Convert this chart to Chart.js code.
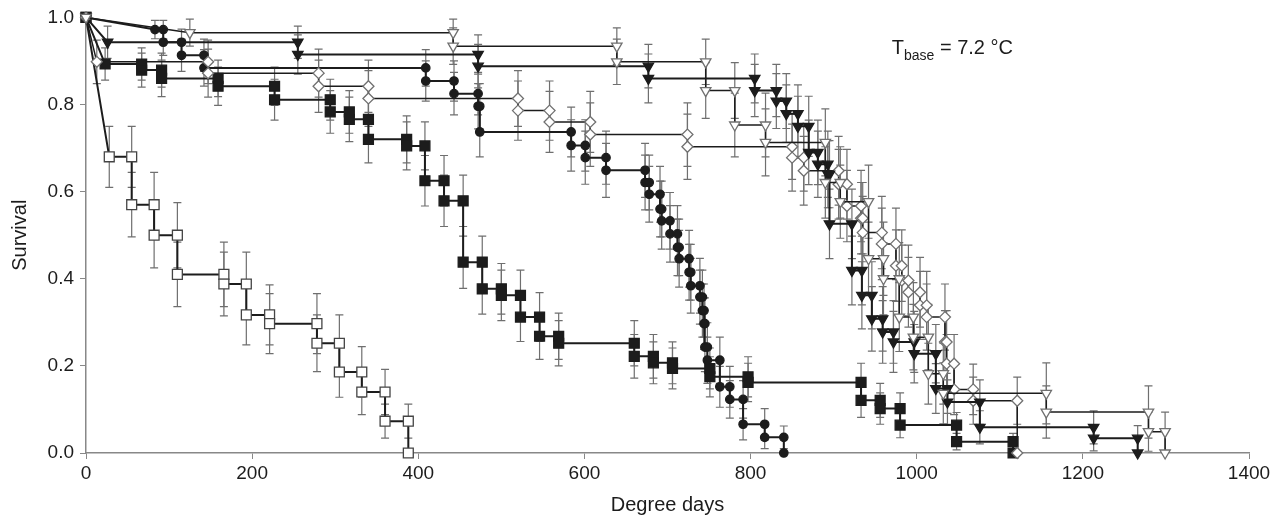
<!DOCTYPE html>
<html>
<head>
<meta charset="utf-8">
<script src="https://cdn.jsdelivr.net/npm/chart.js@4/dist/chart.umd.min.js"></script>
<style>
  body { margin: 0; background: #fff; }
  #wrap { width: 1284px; height: 517px; }
</style>
</head>
<body>
<div id="wrap"><canvas id="survival"></canvas></div>
<script>
// event times (degree days), survival after each event, and CI half-width
var openSqTimes = [28, 55, 82, 110, 166, 193, 221, 278, 305, 332, 360, 388];
var openSqSurv  = [0.68, 0.57, 0.50, 0.41, 0.388, 0.317, 0.297, 0.252, 0.186, 0.140, 0.073, 0];
var openSqErr   = [0.07, 0.074, 0.075, 0.074, 0.073, 0.069, 0.069, 0.065, 0.058, 0.052, 0.039, 0];

var fillSqTimes = [23, 67, 91, 159, 227, 294, 317, 340, 386, 408, 431, 454, 477, 500, 523, 546, 569, 660, 683, 706, 751, 797, 933, 956, 980, 1048, 1116];
var fillSqSurv  = [0.893, 0.879, 0.86, 0.842, 0.811, 0.783, 0.766, 0.72, 0.705, 0.625, 0.579, 0.438, 0.377, 0.362, 0.312, 0.268, 0.252, 0.222, 0.207, 0.194, 0.175, 0.162, 0.121, 0.102, 0.064, 0.026, 0];
var fillSqErr   = [0.037, 0.039, 0.042, 0.044, 0.047, 0.049, 0.051, 0.054, 0.055, 0.058, 0.059, 0.06, 0.058, 0.058, 0.056, 0.053, 0.052, 0.05, 0.048, 0.047, 0.046, 0.044, 0.039, 0.036, 0.029, 0.019, 0];

var circTimes = [83, 93, 115, 142, 409, 443, 472, 474, 584, 601, 626, 673, 678, 691, 693, 703, 712, 714, 726, 728, 739, 742, 744, 745, 748, 763, 775, 791, 817, 840];
var circSurv  = [0.972, 0.943, 0.913, 0.884, 0.854, 0.825, 0.796, 0.737, 0.706, 0.678, 0.649, 0.621, 0.594, 0.56, 0.533, 0.503, 0.472, 0.446, 0.415, 0.384, 0.358, 0.327, 0.297, 0.243, 0.213, 0.152, 0.123, 0.066, 0.036, 0];
var circErr   = [0.021, 0.03, 0.037, 0.042, 0.046, 0.049, 0.052, 0.057, 0.059, 0.061, 0.062, 0.063, 0.064, 0.064, 0.065, 0.065, 0.065, 0.065, 0.064, 0.063, 0.062, 0.061, 0.059, 0.056, 0.053, 0.047, 0.043, 0.036, 0.026, 0];

var diaTimes = [13, 147, 280, 340, 520, 558, 607, 724, 850, 864, 906, 916, 933, 935, 958, 975, 982, 990, 1004, 1012, 1034, 1036, 1045, 1068, 1121];
var diaSurv  = [0.898, 0.872, 0.842, 0.814, 0.786, 0.76, 0.731, 0.703, 0.678, 0.648, 0.617, 0.567, 0.539, 0.506, 0.48, 0.43, 0.396, 0.369, 0.339, 0.312, 0.255, 0.205, 0.146, 0.12, 0];
var diaErr   = [0.05, 0.055, 0.06, 0.064, 0.068, 0.07, 0.073, 0.075, 0.077, 0.079, 0.08, 0.082, 0.082, 0.083, 0.082, 0.082, 0.081, 0.08, 0.078, 0.076, 0.072, 0.067, 0.058, 0.054, 0];

var triTimes = [26, 255, 472, 677, 805, 831, 843, 857, 870, 881, 893, 895, 922, 934, 946, 959, 972, 997, 1023, 1037, 1076, 1213, 1266];
var triSurv  = [0.943, 0.915, 0.888, 0.86, 0.832, 0.808, 0.779, 0.75, 0.69, 0.663, 0.64, 0.526, 0.419, 0.362, 0.308, 0.278, 0.255, 0.228, 0.148, 0.117, 0.059, 0.034, 0];
var triErr   = [0.037, 0.045, 0.05, 0.056, 0.06, 0.063, 0.066, 0.069, 0.074, 0.076, 0.077, 0.08, 0.079, 0.077, 0.074, 0.072, 0.07, 0.067, 0.057, 0.051, 0.038, 0.029, 0];

var openTriTimes = [125, 442, 639, 746, 781, 818, 890, 908, 942, 960, 979, 996, 1014, 1032, 1156, 1279, 1299];
var openTriSurv  = [0.965, 0.934, 0.898, 0.832, 0.753, 0.713, 0.621, 0.577, 0.446, 0.40, 0.312, 0.266, 0.182, 0.137, 0.094, 0.049, 0];
var openTriErr   = [0.031, 0.042, 0.052, 0.064, 0.073, 0.077, 0.082, 0.084, 0.084, 0.083, 0.079, 0.075, 0.07, 0.07, 0.06, 0.045, 0];

var xTicks = [0, 200, 400, 600, 800, 1000, 1200, 1400];
var yTicks = [0, 0.2, 0.4, 0.6, 0.8, 1.0];

var FONT = "'Liberation Sans', Arial, Helvetica, sans-serif";
var INK = '#1c1c1c';

// Kaplan-Meier style steps: marker at both ends of each drop
function steps(times, surv, err) {
    var pts = [{x: 0, y: 1, e: 0}];
    for (var i = 0; i < times.length; i++) {
        if (i > 0) pts.push({x: times[i], y: surv[i - 1], e: err[i - 1]});
        pts.push({x: times[i], y: surv[i], e: err[i]});
    }
    return pts;
}

function series(label, pts, style, fill, edge, radius, rot, lw) {
    return {
        label: label,
        data: pts,
        showLine: true,
        tension: 0,
        borderColor: INK,
        borderWidth: lw,
        pointStyle: style,
        pointRadius: radius,
        pointRotation: rot,
        pointBackgroundColor: fill,
        pointBorderColor: edge,
        pointBorderWidth: 1.3,
        clip: false
    };
}

var errorBars = {
    id: 'errorBars',
    beforeDatasetsDraw: function (chart) {
        var ctx = chart.ctx;
        var xs = chart.scales.x, ys = chart.scales.y;
        ctx.save();
        ctx.strokeStyle = '#6f6f6f';
        ctx.lineWidth = 1.2;
        chart.data.datasets.forEach(function (ds) {
            ds.data.forEach(function (p) {
                if (!p.e) return;
                var px = xs.getPixelForValue(p.x);
                var top = ys.getPixelForValue(p.y + p.e);
                var bot = ys.getPixelForValue(p.y - p.e);
                ctx.beginPath();
                ctx.moveTo(px, top); ctx.lineTo(px, bot);
                ctx.moveTo(px - 4, top); ctx.lineTo(px + 4, top);
                ctx.moveTo(px - 4, bot); ctx.lineTo(px + 4, bot);
                ctx.stroke();
            });
        });
        ctx.restore();
    }
};

var tbaseNote = {
    id: 'tbaseNote',
    afterDraw: function (chart) {
        var ctx = chart.ctx;
        var x = chart.scales.x.getPixelForValue(970);
        var y = chart.scales.y.getPixelForValue(0.915);
        ctx.save();
        ctx.fillStyle = INK;
        ctx.textBaseline = 'alphabetic';
        ctx.font = '20px ' + FONT;
        ctx.fillText('T', x, y);
        x += ctx.measureText('T').width;
        ctx.font = '14px ' + FONT;
        ctx.fillText('base', x, y + 6);
        x += ctx.measureText('base').width;
        ctx.font = '20px ' + FONT;
        ctx.fillText(' = 7.2 \u00B0C', x, y);
        ctx.restore();
    }
};

var ctx = document.getElementById('survival').getContext('2d');
new Chart(ctx, {
    type: 'scatter',
    data: {
        datasets: [
            series('open triangles', steps(openTriTimes, openTriSurv, openTriErr), 'triangle', '#fff', '#707070', 6, 180, 1.5),
            series('filled triangles', steps(triTimes, triSurv, triErr), 'triangle', INK, INK, 6, 180, 2),
            series('open diamonds', steps(diaTimes, diaSurv, diaErr), 'rectRot', '#fff', '#707070', 5.5, 0, 1.5),
            series('filled circles', steps(circTimes, circSurv, circErr), 'circle', INK, INK, 4.2, 0, 2),
            series('filled squares', steps(fillSqTimes, fillSqSurv, fillSqErr), 'rect', INK, INK, 7, 0, 2),
            series('open squares', steps(openSqTimes, openSqSurv, openSqErr), 'rect', '#fff', '#444', 7, 0, 2)
        ]
    },
    options: {
        responsive: true,
        maintainAspectRatio: false,
        animation: false,
        layout: { padding: { top: 16, right: 35, left: 0, bottom: 0 } },
        plugins: {
            legend: { display: false },
            tooltip: { enabled: false }
        },
        scales: {
            x: {
                type: 'linear',
                min: 0,
                max: 1400,
                afterBuildTicks: function (s) { s.ticks = xTicks.map(function (v) { return {value: v}; }); },
                afterFit: function (s) { s.height = 64; },
                ticks: {
                    color: INK,
                    font: { family: FONT, size: 19 },
                    padding: 3,
                    maxRotation: 0,
                    callback: function (v) { return String(v); }
                },
                grid: { drawOnChartArea: false, drawTicks: true, tickLength: 6, color: '#888' },
                border: { color: '#888', width: 1.5 },
                title: { display: true, text: 'Degree days', color: INK, font: { family: FONT, size: 20 }, padding: 0 }
            },
            y: {
                min: 0,
                max: 1,
                afterBuildTicks: function (s) { s.ticks = yTicks.map(function (v) { return {value: v}; }); },
                afterFit: function (s) { s.width = 86; },
                ticks: {
                    color: INK,
                    font: { family: FONT, size: 19 },
                    padding: 6,
                    callback: function (v) { return v.toFixed(1); }
                },
                grid: { drawOnChartArea: false, drawTicks: true, tickLength: 6, color: '#888' },
                border: { color: '#888', width: 1.5 },
                title: { display: true, text: 'Survival', color: INK, font: { family: FONT, size: 20 }, padding: { top: 8, bottom: 0 } }
            }
        }
    },
    plugins: [errorBars, tbaseNote]
});
</script>
</body>
</html>
